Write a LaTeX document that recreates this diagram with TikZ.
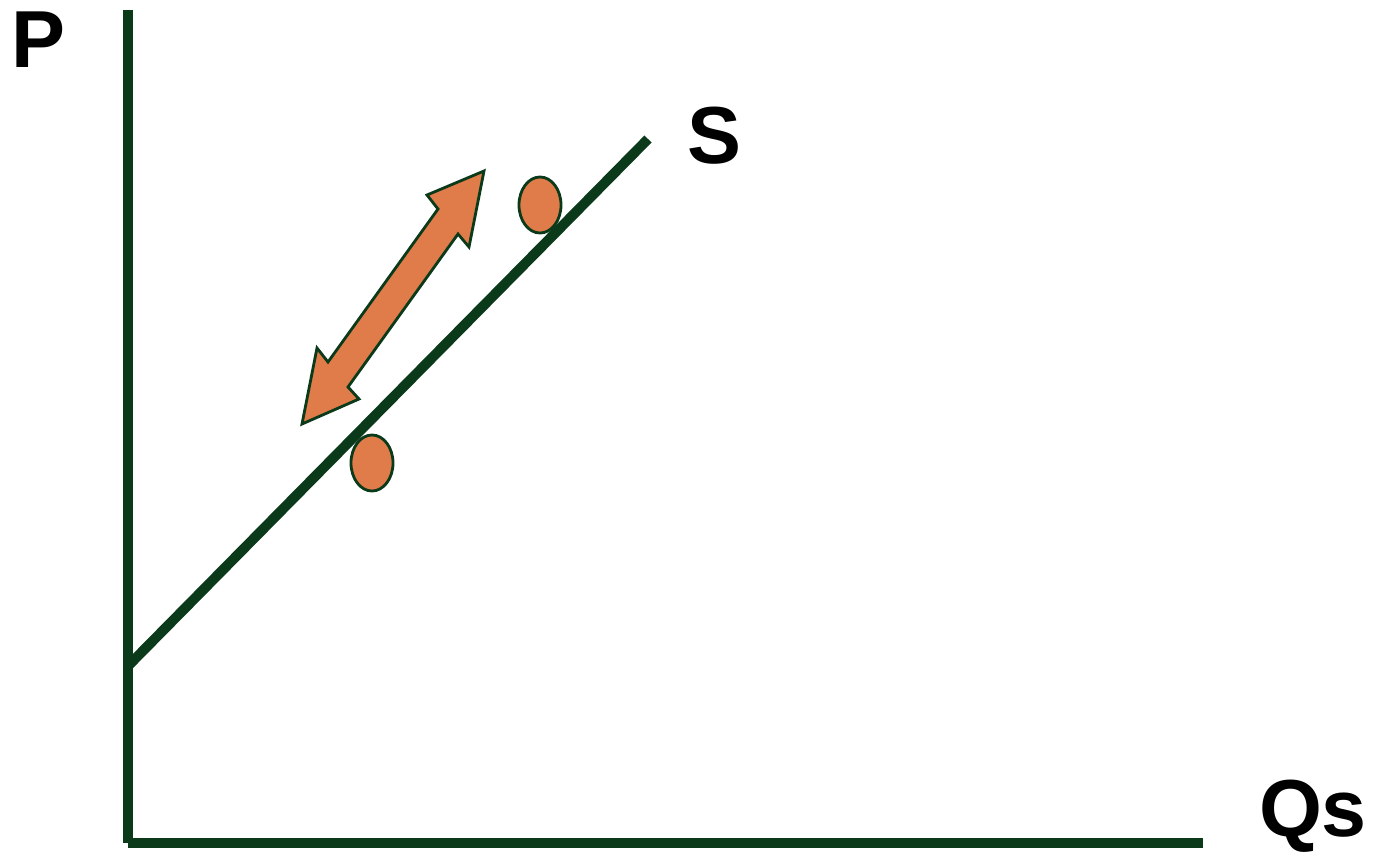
\documentclass[tikz,border=0pt]{standalone}
\usepackage{fontspec}
\setmainfont{Liberation Sans}
\usepackage{xcolor}
\usetikzlibrary{shapes.geometric}

\definecolor{axisgreen}{HTML}{0B3A1A}
\definecolor{dotorange}{HTML}{E07B4A}

\begin{document}
\begin{tikzpicture}[x=0.01cm, y=-0.01cm,
    axis/.style={draw=axisgreen, line width=0.1cm},
    lbl/.style={font=\fontsize{23}{27}\selectfont\bfseries, anchor=base, inner sep=0pt},
    dot/.style={ellipse, draw=axisgreen, line width=0.8pt, fill=dotorange,
                minimum width=0.42cm, minimum height=0.56cm, inner sep=0pt},
    bigarr/.style={draw=axisgreen, line width=0.8pt, fill=dotorange, line join=miter}
  ]
  \useasboundingbox (0,0) rectangle (1375,851);
  % axes
  \coordinate (top)    at (128,10);
  \coordinate (origin) at (128,843);
  \coordinate (right)  at (1203,843);
  \draw[axis] (top) -- (origin);
  \draw[axis] (origin) -- (right);
  % supply curve
  \coordinate (sstart) at (128,666);
  \coordinate (send)   at (648,139);
  \draw[axis] (sstart) -- (send);
  % labels
  \node[lbl] (plab) at (38,67)   {P};
  \node[lbl] (slab) at (714,163) {S};
  \node[lbl] (qlab) at (1313,836) {Qs};
  % points on the curve
  \node[dot] (hi) at (540,205) {};
  \node[dot] (lo) at (372,463) {};
  % movement along the curve
  \draw[bigarr] (484,171) -- (469,247) -- (458,234) -- (348,387) -- (359,399)
    -- (302,424) -- (317,348) -- (328,362) -- (438,209) -- (427,195) -- cycle;
\end{tikzpicture}
\end{document}
